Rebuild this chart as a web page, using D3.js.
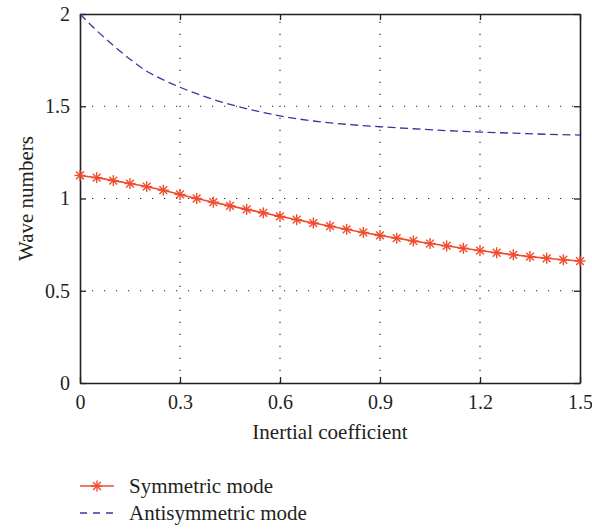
<!DOCTYPE html>
<html>
<head>
<meta charset="utf-8">
<script src="https://cdn.jsdelivr.net/npm/d3@7"></script>
<style>
  body { margin: 0; background: #fff; }
</style>
</head>
<body>
<div id="chart"></div>
<script>
// Data
const symX = [0, 0.05, 0.1, 0.15, 0.2, 0.25, 0.3, 0.35, 0.4, 0.45, 0.5, 0.55, 0.6, 0.65, 0.7, 0.75,
    0.8, 0.85, 0.9, 0.95, 1.0, 1.05, 1.1, 1.15, 1.2, 1.25, 1.3, 1.35, 1.4, 1.45, 1.5];
const symY = [1.125, 1.113, 1.097, 1.081, 1.064, 1.045, 1.022, 1.000, 0.980, 0.960, 0.941, 0.922,
    0.903, 0.885, 0.867, 0.850, 0.833, 0.816, 0.800, 0.785, 0.770, 0.756, 0.743, 0.730, 0.718,
    0.706, 0.695, 0.685, 0.676, 0.668, 0.661];
const antiX = [0, 0.05, 0.1, 0.15, 0.2, 0.25, 0.3, 0.35, 0.4, 0.45, 0.5, 0.55, 0.6, 0.7, 0.8, 0.9,
    1.0, 1.1, 1.2, 1.3, 1.4, 1.5];
const antiY = [2.0, 1.91, 1.83, 1.755, 1.69, 1.643, 1.603, 1.568, 1.537, 1.510, 1.487, 1.466, 1.448,
    1.420, 1.402, 1.389, 1.378, 1.368, 1.360, 1.354, 1.348, 1.344];
const xTicks = [0, 0.3, 0.6, 0.9, 1.2, 1.5];
const yTicks = [0, 0.5, 1, 1.5, 2];
const seriesNames = ['Symmetric mode', 'Antisymmetric mode'];

const symColor = '#f04b2e';
const antiColor = '#3b34a0';
const textColor = '#231f20';
const serif = '"Liberation Serif", "Times New Roman", serif';

const width = 592, height = 529;
const margin = { left: 80, right: 12, top: 14, bottom: 146 };

const svg = d3.select('#chart')
    .append('svg')
    .attr('width', width)
    .attr('height', height);

const x = d3.scaleLinear().domain([0, 1.5]).range([margin.left, width - margin.right]);
const y = d3.scaleLinear().domain([0, 2]).range([height - margin.bottom, margin.top]);

// Dotted grid
const grid = svg.append('g').attr('stroke', '#222').attr('stroke-width', 1.1)
    .attr('stroke-dasharray', '1.2,10.8');
grid.selectAll('.vg').data(xTicks.slice(1, -1)).enter().append('line')
    .attr('x1', d => x(d)).attr('x2', d => x(d))
    .attr('y1', y(0)).attr('y2', y(2));
grid.selectAll('.hg').data(yTicks.slice(1, -1)).enter().append('line')
    .attr('x1', x(0)).attr('x2', x(1.5))
    .attr('y1', d => y(d)).attr('y2', d => y(d));

// Axes with inward ticks
const tickLen = 6;

svg.append('g')
    .attr('transform', `translate(0,${y(0)})`)
    .call(d3.axisBottom(x).tickValues(xTicks).tickSizeInner(-tickLen).tickSizeOuter(0).tickPadding(12)
        .tickFormat(d3.format('')));
svg.append('g')
    .attr('transform', `translate(${x(0)},0)`)
    .call(d3.axisLeft(y).tickValues(yTicks).tickSizeInner(-tickLen).tickSizeOuter(0).tickPadding(10)
        .tickFormat(d3.format('')));
svg.append('g')
    .attr('transform', `translate(0,${y(2)})`)
    .call(d3.axisTop(x).tickValues(xTicks).tickSizeInner(-tickLen).tickSizeOuter(0).tickFormat(''));
svg.append('g')
    .attr('transform', `translate(${x(1.5)},0)`)
    .call(d3.axisRight(y).tickValues(yTicks).tickSizeInner(-tickLen).tickSizeOuter(0).tickFormat(''));

svg.selectAll('.domain').attr('stroke', textColor).attr('stroke-width', 1.6);
svg.selectAll('.tick line').attr('stroke', textColor).attr('stroke-width', 1.3);
svg.selectAll('.tick text')
    .style('font-family', serif)
    .style('font-size', '20px')
    .attr('fill', textColor);

// Axis titles
svg.append('text')
    .attr('x', x(0.75))
    .attr('y', 439)
    .attr('text-anchor', 'middle')
    .style('font-family', serif)
    .style('font-size', '21px')
    .attr('fill', textColor)
    .text('Inertial coefficient');
svg.append('text')
    .attr('transform', `translate(33,${(y(0) + y(2)) / 2}) rotate(-90)`)
    .attr('text-anchor', 'middle')
    .style('font-family', serif)
    .style('font-size', '21px')
    .attr('fill', textColor)
    .text('Wave numbers');

// Lines
const line = d3.line().x(d => x(d[0])).y(d => y(d[1])).curve(d3.curveMonotoneX);
const symData = symX.map((v, i) => [v, symY[i]]);
const antiData = antiX.map((v, i) => [v, antiY[i]]);

svg.append('path')
    .datum(antiData)
    .attr('d', line)
    .attr('fill', 'none')
    .attr('stroke', antiColor)
    .attr('stroke-width', 1.3)
    .attr('stroke-dasharray', '8,4.5');

svg.append('path')
    .datum(symData)
    .attr('d', line)
    .attr('fill', 'none')
    .attr('stroke', symColor)
    .attr('stroke-width', 1.6);

// Asterisk markers
function asterisk(g, cx, cy, r) {
    const a = r * Math.SQRT1_2;
    const segs = [[-r, 0, r, 0], [0, -r, 0, r], [-a, -a, a, a], [-a, a, a, -a]];
    segs.forEach(s => {
        g.append('line')
            .attr('x1', cx + s[0]).attr('y1', cy + s[1])
            .attr('x2', cx + s[2]).attr('y2', cy + s[3])
            .attr('stroke', symColor)
            .attr('stroke-width', 1.4);
    });
}
const markers = svg.append('g');
symData.forEach(d => asterisk(markers, x(d[0]), y(d[1]), 5.5));

// Legend
const legend = svg.append('g').attr('transform', 'translate(80,486)');
legend.append('line')
    .attr('x1', 0).attr('x2', 34).attr('y1', 0).attr('y2', 0)
    .attr('stroke', symColor).attr('stroke-width', 1.6);
asterisk(legend, 17, 0, 5.5);
legend.append('line')
    .attr('x1', 0).attr('x2', 34).attr('y1', 27).attr('y2', 27)
    .attr('stroke', antiColor).attr('stroke-width', 1.3)
    .attr('stroke-dasharray', '7,6');
seriesNames.forEach((name, i) => {
    legend.append('text')
        .attr('x', 49)
        .attr('y', i * 27 + 7)
        .style('font-family', serif)
        .style('font-size', '21px')
        .attr('fill', textColor)
        .text(name);
});
</script>
</body>
</html>
